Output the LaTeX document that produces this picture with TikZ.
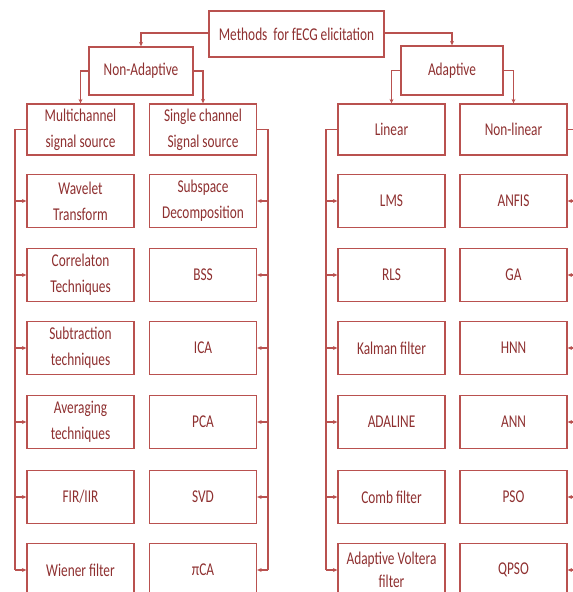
\documentclass[tikz,border=0pt]{standalone}
\usepackage{fontspec}
\setmainfont{Carlito}[FakeStretch=0.74]
\usetikzlibrary{arrows.meta}
\definecolor{linec}{HTML}{B9514F}
\definecolor{textc}{HTML}{8E3030}
\begin{document}
\begin{tikzpicture}[x=1pt,y=-1pt,
  box/.style={draw=linec, line width=1.3pt, rectangle, minimum width=107pt, minimum height=53pt,
    inner sep=1pt, align=center, text=textc, font=\fontsize{18}{26}\selectfont},
  wire/.style={draw=linec, line width=1.3pt},
  arr/.style={wire, -{Stealth[length=4.5pt,width=4pt]}}]
\useasboundingbox (0,0) rectangle (573,592);
% top levels
\node[box, minimum width=175pt, minimum height=46pt] (M) at (296.5,34) {Methods\ \ for fECG elicitation};
\node[box, minimum width=104pt, minimum height=48pt] (NA) at (141,71) {Non-Adaptive};
\node[box, minimum width=102pt, minimum height=49pt] (AD) at (452,70.5) {Adaptive};
\node[box, minimum height=51pt] (MC) at (80.5,129.5) {Multichannel\\signal source};
\node[box, minimum height=51pt] (SC) at (203,129.5) {Single channel\\Signal source};
\node[box, minimum height=51pt] (LI) at (391.5,129.5) {Linear};
\node[box, minimum height=51pt] (NL) at (513.5,129.5) {Non-linear};
% column 1
\node[box] (a1) at (80.5,201) {Wavelet\\Transform};
\node[box] (a2) at (80.5,275) {Correlaton\\Techniques};
\node[box] (a3) at (80.5,348) {Subtraction\\techniques};
\node[box] (a4) at (80.5,422) {Averaging\\techniques};
\node[box] (a5) at (80.5,497) {FIR/IIR};
\node[box] (a6) at (80.5,570) {Wiener filter};
% column 2
\node[box] (b1) at (203,201) {Subspace\\Decomposition};
\node[box] (b2) at (203,275) {BSS};
\node[box] (b3) at (203,348) {ICA};
\node[box] (b4) at (203,422) {PCA};
\node[box] (b5) at (203,497) {SVD};
\node[box] (b6) at (203,570) {πCA};
% column 3
\node[box] (c1) at (391.5,201) {LMS};
\node[box] (c2) at (391.5,275) {RLS};
\node[box] (c3) at (391.5,348) {Kalman filter};
\node[box] (c4) at (391.5,422) {ADALINE};
\node[box] (c5) at (391.5,497) {Comb filter};
\node[box, font=\fontsize{18}{23}\selectfont] (c6) at (391.5,570) {Adaptive Voltera\\filter};
% column 4
\node[box] (d1) at (513.5,201) {ANFIS};
\node[box] (d2) at (513.5,275) {GA};
\node[box] (d3) at (513.5,348) {HNN};
\node[box] (d4) at (513.5,422) {ANN};
\node[box] (d5) at (513.5,497) {PSO};
\node[box] (d6) at (513.5,570) {QPSO};
% tree connectors
\draw[arr] (M.west |- 0,33) -| (NA.north);
\draw[arr] (M.east |- 0,33) -| (AD.north);
\draw[arr] (NA.west) -| (MC.north);
\draw[arr] (NA.east) -| (SC.north);
\draw[arr] (AD.west) -| (LI.north);
\draw[arr] (AD.east) -| (NL.north);
% buses
\draw[wire] (MC.west) -- (15,129.5) coordinate (busA) -- (busA |- a6.west);
\draw[wire] (SC.east) -- (268,129.5) coordinate (busB) -- (busB |- b6.east);
\draw[wire] (LI.west) -- (326,129.5) coordinate (busC) -- (busC |- c6.west);
\draw[wire] (NL.east) -- (579,129.5) coordinate (busD) -- (busD |- d6.east);
\foreach \n in {a1,a2,a3,a4,a5,a6}{\draw[arr] (busA |- \n.west) -- (\n.west);}
\foreach \n in {b1,b2,b3,b4,b5,b6}{\draw[arr] (busB |- \n.east) -- (\n.east);}
\foreach \n in {c1,c2,c3,c4,c5,c6}{\draw[arr] (busC |- \n.west) -- (\n.west);}
\foreach \n in {d1,d2,d3,d4,d5,d6}{\draw[arr] (busD |- \n.east) -- (\n.east);}
\end{tikzpicture}
\end{document}
